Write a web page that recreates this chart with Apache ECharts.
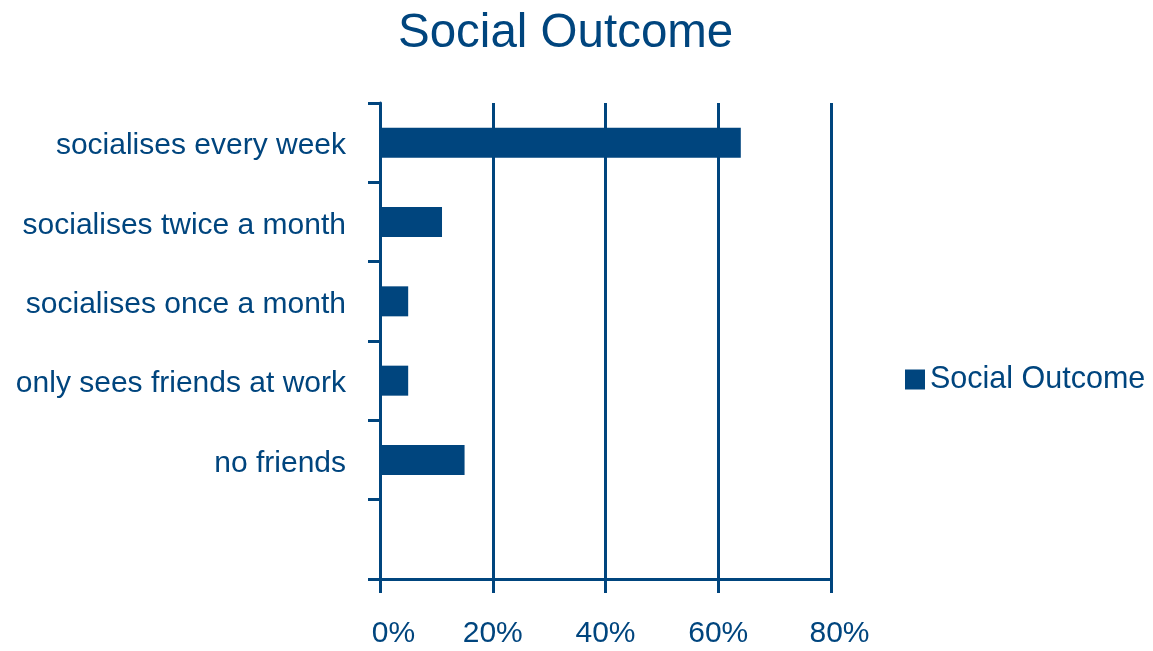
<!DOCTYPE html>
<html>
<head>
<meta charset="utf-8">
<script src="https://cdn.jsdelivr.net/npm/echarts@6/dist/echarts.min.js"></script>
<style>
  html, body { margin: 0; padding: 0; background: #fff; }
  #chart { width: 1153px; height: 651px; }
</style>
</head>
<body>
<div id="chart"></div>
<script>
// Share of respondents by social frequency (percent)
const categories = [
  'socialises every week',
  'socialises twice a month',
  'socialises once a month',
  'only sees friends at work',
  'no friends',
  ''
];
const values = [64, 11, 5, 5, 15, null];
const seriesName = 'Social Outcome';
const xTicks = { min: 0, max: 80, interval: 20 };

const ink = '#00457e';
const font = '"Liberation Sans", Arial, Helvetica, sans-serif';

const labelBase = { color: ink, fontFamily: font, fontSize: 30 };

const chart = echarts.init(document.getElementById('chart'), null, { renderer: 'canvas' });
chart.setOption({
  backgroundColor: '#ffffff',
  animation: false,
  title: {
    text: 'Social Outcome',
    left: 393,
    top: 5,
    textStyle: { color: ink, fontFamily: font, fontSize: 47.5, fontWeight: 'normal' }
  },
  legend: {
    data: [seriesName],
    left: 900,
    top: 359,
    icon: 'rect',
    itemWidth: 20,
    itemHeight: 20,
    itemGap: 6,
    textStyle: { color: ink, fontFamily: font, fontSize: 30.5 }
  },
  grid: { left: 380, right: 322, top: 103, bottom: 72, containLabel: false },
  xAxis: {
    type: 'value',
    min: xTicks.min,
    max: xTicks.max,
    interval: xTicks.interval,
    axisLine: { show: true, lineStyle: { color: ink, width: 3 } },
    axisTick: { show: true, length: 14, lineStyle: { color: ink, width: 3 } },
    splitLine: { show: true, lineStyle: { color: ink, width: 3 } },
    axisLabel: Object.assign({
      margin: 40,
      // end labels sit slightly inward of their ticks
      formatter: function (v) {
        if (v === xTicks.min) return '{first|' + v + '%}';
        if (v === xTicks.max) return '{last|' + v + '%}';
        return v + '%';
      },
      rich: {
        first: Object.assign({ padding: [0, 0, 0, 27] }, labelBase),
        last: Object.assign({ padding: [0, 0, 0, 17] }, labelBase)
      }
    }, labelBase)
  },
  yAxis: {
    type: 'category',
    data: categories,
    inverse: true,
    axisLine: { show: true, lineStyle: { color: ink, width: 3 } },
    axisTick: { show: true, length: 12, alignWithLabel: false, lineStyle: { color: ink, width: 3 } },
    splitLine: { show: false },
    axisLabel: Object.assign({
      margin: 34,
      // nudge category names a little below the band centre
      formatter: function (v) { return v ? '{c|' + v + '}' : ''; },
      rich: {
        c: Object.assign({ padding: [7, 0, 0, 0] }, labelBase)
      }
    }, labelBase)
  },
  series: [{
    name: seriesName,
    type: 'bar',
    data: values,
    barWidth: 30,
    itemStyle: { color: ink }
  }]
});
</script>
</body>
</html>
